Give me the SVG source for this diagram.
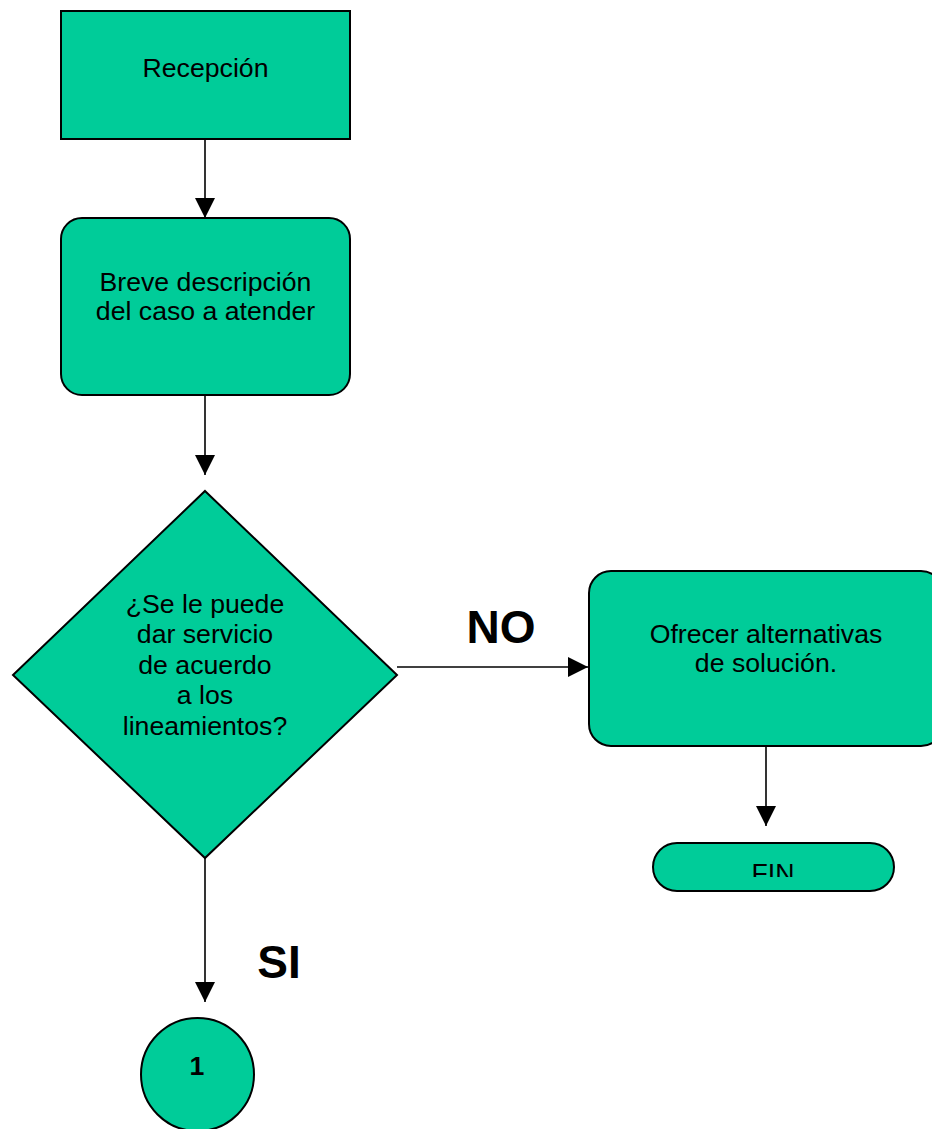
<svg xmlns="http://www.w3.org/2000/svg" width="932" height="1129" viewBox="0 0 932 1129">
  <style>
    .shape { fill: #00CC99; stroke: #000000; stroke-width: 2; }
    .label { font-family: "Liberation Sans", Arial, sans-serif; font-size: 26.67px; fill: #000000; text-anchor: middle; }
    .big { font-family: "Liberation Sans", Arial, sans-serif; font-size: 46px; font-weight: bold; fill: #000000; text-anchor: middle; }
    .edge { fill: none; stroke: #000000; stroke-width: 1.6; }
  </style>
  <defs>
    <marker id="arrow" viewBox="0 0 20 20" refX="20" refY="10" markerWidth="20" markerHeight="20" markerUnits="userSpaceOnUse" orient="auto">
      <path d="M0,0 L20,10 L0,20 Z" fill="#000000"/>
    </marker>
    <clipPath id="finClip">
      <rect x="640" y="840" width="270" height="37"/>
    </clipPath>
  </defs>

  <!-- connectors -->
  <g id="connectors">
    <line class="edge" x1="205" y1="139" x2="205" y2="218" marker-end="url(#arrow)"/>
    <line class="edge" x1="205" y1="395" x2="205" y2="475" marker-end="url(#arrow)"/>
    <line class="edge" x1="397" y1="667" x2="588" y2="667" marker-end="url(#arrow)"/>
    <line class="edge" x1="766" y1="746" x2="766" y2="826" marker-end="url(#arrow)"/>
    <line class="edge" x1="205" y1="858" x2="205" y2="1002" marker-end="url(#arrow)"/>
    <text class="big" x="501" y="643">NO</text>
    <text class="big" x="279" y="978">SI</text>
  </g>

  <g id="recepcion">
    <rect class="shape" x="61" y="11" width="289" height="128"/>
    <text class="label" x="205.5" y="77">Recepción</text>
  </g>

  <g id="descripcion">
    <rect class="shape" x="61" y="218" width="289" height="177" rx="21" ry="21"/>
    <text class="label" x="205.5" y="290.5">Breve descripción</text>
    <text class="label" x="205.5" y="320">del caso a atender</text>
  </g>

  <g id="decision">
    <polygon class="shape" points="205,491 397,675 205,858 13,675"/>
    <text class="label" x="205" y="612.5">¿Se le puede</text>
    <text class="label" x="205" y="643">dar servicio</text>
    <text class="label" x="205" y="673.5">de acuerdo</text>
    <text class="label" x="205" y="704">a los</text>
    <text class="label" x="205" y="734.5">lineamientos?</text>
  </g>

  <g id="alternativas">
    <rect class="shape" x="589" y="571" width="354" height="175" rx="22" ry="22"/>
    <text class="label" x="766" y="643">Ofrecer alternativas</text>
    <text class="label" x="766" y="672">de solución.</text>
  </g>

  <g id="fin">
    <rect class="shape" x="653" y="843" width="241" height="48" rx="24" ry="24"/>
    <text class="label" x="773" y="882" clip-path="url(#finClip)">FIN</text>
  </g>

  <g id="conector-1">
    <circle class="shape" cx="197.5" cy="1074.5" r="56.5"/>
    <text class="label" x="197" y="1075" font-weight="bold">1</text>
  </g>
</svg>
